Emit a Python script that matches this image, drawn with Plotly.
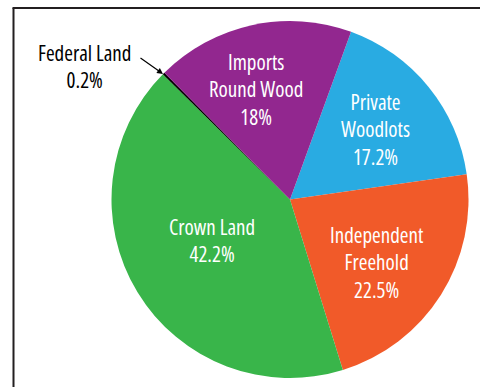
import plotly.graph_objects as go

# Wood supply by source (percent)
labels = ["Private Woodlots", "Independent Freehold", "Crown Land", "Federal Land", "Imports Round Wood"]
values = [17.2, 22.5, 42.2, 0.2, 18]
colors = ["#29ABE2", "#F15A29", "#39B54A", "#000000", "#92278F"]

# how each label is broken onto lines inside the chart
label_lines = {
    "Private Woodlots": ["Private", "Woodlots"],
    "Independent Freehold": ["Independent", "Freehold"],
    "Crown Land": ["Crown Land"],
    "Federal Land": ["Federal Land"],
    "Imports Round Wood": ["Imports", "Round Wood"],
}

W, H = 480, 387
FONT = "Open Sans"
FONT_SIZE = 21

# pie geometry in pixels
cx, cy, r = 290, 199.5, 178.5


def px(x):
    return x / W


def py(y):
    return 1 - y / H


fig = go.Figure(
    go.Pie(
        labels=labels,
        values=values,
        sort=False,
        direction="clockwise",
        rotation=20,
        marker=dict(colors=colors, line=dict(width=0)),
        textinfo="none",
        hoverinfo="label+percent",
        showlegend=False,
        domain=dict(x=[px(cx - r), px(cx + r)], y=[py(cy + r), py(cy - r)]),
    )
)


def fmt(v):
    return f"{v:g}%"


def narrow(s):
    return f'<span style="font-stretch:80%">{s}</span>'


# label placement (pixel centres of each text block)
label_pos = {
    "Imports Round Wood": (256, 90, "white"),
    "Private Woodlots": (375, 129.5, "white"),
    "Independent Freehold": (377, 262.5, "white"),
    "Crown Land": (212, 241, "white"),
    "Federal Land": (84, 66.5, "black"),
}

annotations = []
for lab, val in zip(labels, values):
    x, y, col = label_pos[lab]
    text = "<br>".join(narrow(t) for t in label_lines[lab] + [fmt(val)])
    annotations.append(
        dict(
            x=px(x), y=py(y), xref="paper", yref="paper",
            text=text, showarrow=False,
            xanchor="center", yanchor="middle",
            font=dict(family=FONT, size=FONT_SIZE, color=col),
        )
    )

# pointer from the Federal Land label to its thin slice
annotations.append(
    dict(
        x=px(163), y=py(74), xref="paper", yref="paper",
        ax=-24, ay=-17, axref="pixel", ayref="pixel",
        text="", showarrow=True, arrowhead=2, arrowsize=1, arrowwidth=1.2,
        arrowcolor="black",
    )
)

# frame lines along the top and left
shapes = [
    dict(type="line", xref="paper", yref="paper", x0=px(13.5), x1=px(13.5),
         y0=py(8), y1=py(H + 2), line=dict(color="#231F20", width=2)),
    dict(type="line", xref="paper", yref="paper", x0=px(12.5), x1=px(W + 2),
         y0=py(8), y1=py(8), line=dict(color="#231F20", width=2)),
]

fig.update_layout(
    width=W, height=H,
    margin=dict(l=0, r=0, t=0, b=0),
    paper_bgcolor="white", plot_bgcolor="white",
    annotations=annotations, shapes=shapes,
)

fig.write_html("out.html")
